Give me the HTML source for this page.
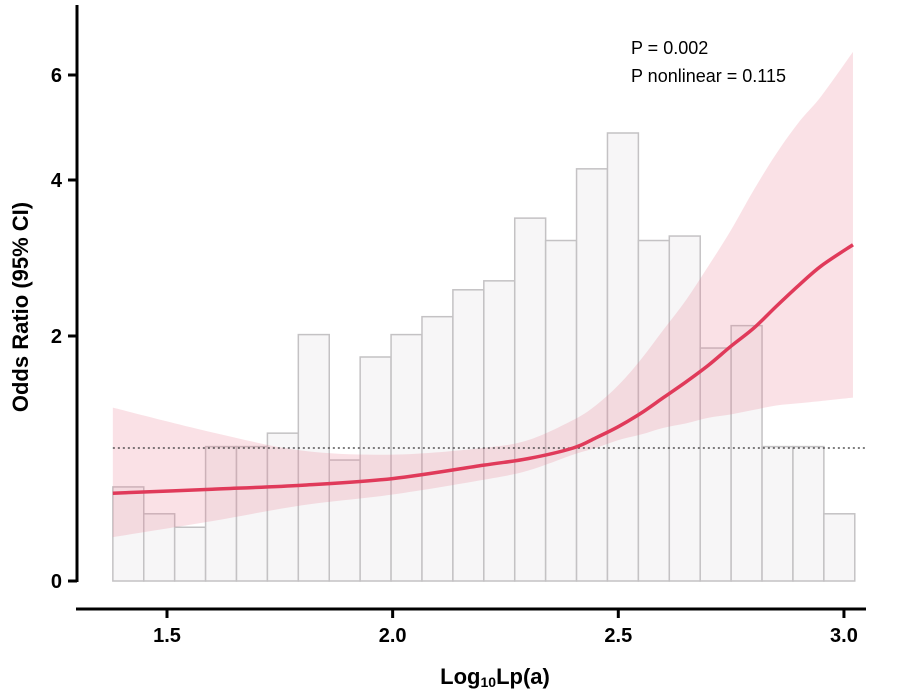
<!DOCTYPE html>
<html><head><meta charset="utf-8"><style>
html,body{margin:0;padding:0;background:#fff;}
svg{display:block;font-family:"Liberation Sans",Arial,sans-serif;}
</style></head><body>
<svg id="chart" width="898" height="693" viewBox="0 0 898 693"></svg>
<script>
const xTicks=[1.5,2.0,2.5,3.0];
const xTickLabels=["1.5","2.0","2.5","3.0"];
const yTicks=[0,2,4,6];
const yTickLabels=["0","2","4","6"];
const binStart=1.38, binWidth=0.0685;
const binCounts=[21,15,12,30,30,33,55,27,50,55,59,65,67,81,76,92,100,76,77,52,57,30,30,15];
const curveX=[1.38,1.6,1.8,2.0,2.2,2.3,2.4,2.45,2.5,2.55,2.6,2.65,2.7,2.75,2.8,2.85,2.9,2.95,3.02];
const curveOR=[0.66,0.69,0.72,0.77,0.87,0.92,1.0,1.09,1.19,1.31,1.45,1.59,1.74,1.91,2.1,2.38,2.65,2.9,3.17];
const ciLower=[0.33,0.45,0.57,0.65,0.76,0.83,0.95,1.0,1.07,1.12,1.18,1.22,1.27,1.3,1.34,1.38,1.4,1.42,1.45];
const ciUpper=[1.36,1.14,0.98,0.95,1.0,1.07,1.25,1.38,1.56,1.79,2.08,2.46,2.9,3.36,3.87,4.5,5.1,5.6,6.44];

const NS="http://www.w3.org/2000/svg";
const svg=document.getElementById('chart');
function X(v){return 167+(v-1.5)*451.3;}
const yV=[0,1,2,4,6], yP=[581,448,336,180,75];
function Y(v){
  for(let i=0;i<yV.length-1;i++){ if(v<=yV[i+1]||i===yV.length-2){
    return yP[i]+(v-yV[i])*(yP[i+1]-yP[i])/(yV[i+1]-yV[i]);}}
}
function C(c){return 581-c*4.48;}
function el(t,a,p){const e=document.createElementNS(NS,t);for(const k in a)e.setAttribute(k,a[k]);(p||svg).appendChild(e);return e;}
function smooth(pts,start){
  let s=(start?'M':'L')+pts[0];
  for(let i=0;i<pts.length-1;i++){
    const p0=pts[i-1]||pts[i],p1=pts[i],p2=pts[i+1],p3=pts[i+2]||p2;
    s+='C'+(p1[0]+(p2[0]-p0[0])/6)+','+(p1[1]+(p2[1]-p0[1])/6)+' '+(p2[0]-(p3[0]-p1[0])/6)+','+(p2[1]-(p3[1]-p1[1])/6)+' '+p2[0]+','+p2[1];
  }
  return s;
}

const g=el('g',{});


binCounts.forEach((c,i)=>{
  const x0=X(binStart+i*binWidth), x1=X(binStart+(i+1)*binWidth);
  const r=el('rect',{x:x0,y:C(c),width:x1-x0,height:581-C(c),fill:'#f7f6f7',stroke:'#c4c2c4','stroke-width':1.5},g);
  
  
});
const up=curveX.map((v,i)=>[X(v),Y(ciUpper[i])]);
const lo=curveX.map((v,i)=>[X(v),Y(ciLower[i])]).reverse();
const band=el('path',{d:smooth(up,true)+smooth(lo,false)+'Z',fill:'rgba(232,120,140,0.22)'});


const ref=el('line',{x1:X(1.38),x2:X(3.05),y1:Y(1),y2:Y(1),stroke:'#333','stroke-width':1.3,'stroke-dasharray':'2,3'});


const pts=curveX.map((v,i)=>[X(v),Y(curveOR[i])]);
const cur=el('path',{d:smooth(pts,true),fill:'none',stroke:'#e03a5a','stroke-width':3.5});


const ya=el('line',{x1:77,x2:77,y1:5,y2:582,stroke:'#000','stroke-width':3});


const xa=el('line',{x1:76,x2:866,y1:609,y2:609,stroke:'#000','stroke-width':3});


yTicks.forEach((v,i)=>{
  el('line',{x1:68,x2:77,y1:Y(v),y2:Y(v),stroke:'#000','stroke-width':3});
  const t=el('text',{x:62,y:Y(v)+7,'text-anchor':'end','font-size':20,'font-weight':'bold'});
  t.textContent=yTickLabels[i];
  
  
});
xTicks.forEach((v,i)=>{
  el('line',{x1:X(v),x2:X(v),y1:609,y2:618,stroke:'#000','stroke-width':3});
  const t=el('text',{x:X(v),y:642,'text-anchor':'middle','font-size':20,'font-weight':'bold'});
  t.textContent=xTickLabels[i];
  
  
});
</script>
<svg style="position:absolute;left:0;top:0" width="898" height="693">
<text x="495" y="684" text-anchor="middle" font-size="22" font-weight="bold" font-family="Liberation Sans, sans-serif">Log<tspan font-size="14" dy="3">10</tspan><tspan dy="-3">Lp(a)</tspan></text>
<text transform="translate(28,307) rotate(-90)" text-anchor="middle" font-size="22" font-weight="bold" font-family="Liberation Sans, sans-serif">Odds Ratio (95% CI)</text>
<text x="631" y="54" font-size="18" font-family="Liberation Sans, sans-serif">P = 0.002</text>
<text x="631" y="82" font-size="18" font-family="Liberation Sans, sans-serif">P nonlinear = 0.115</text>
</svg>
</body></html>
